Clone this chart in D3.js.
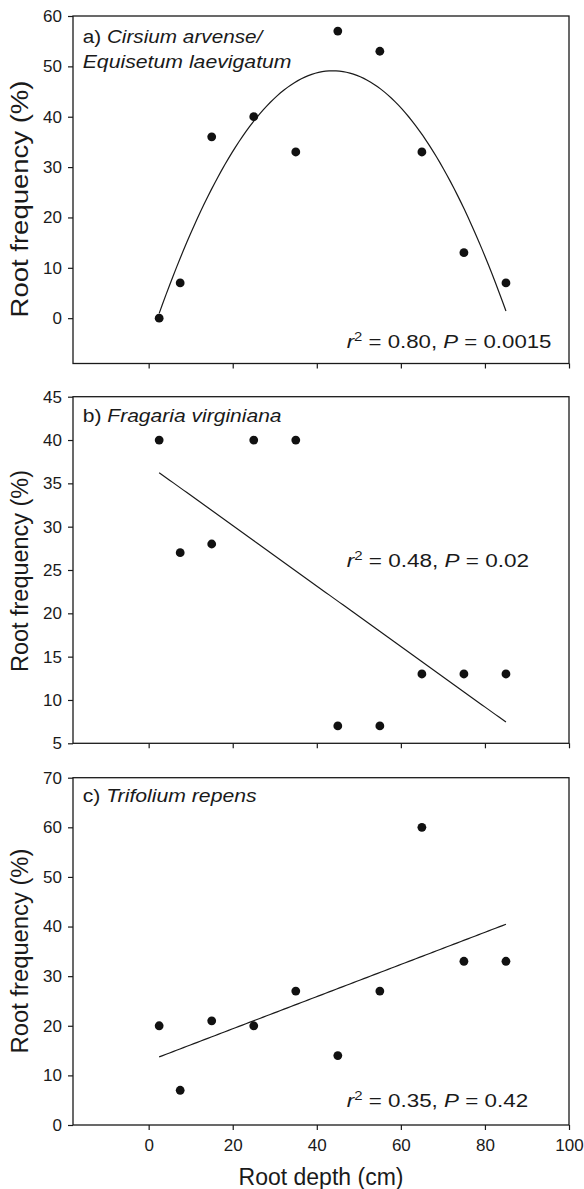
<!DOCTYPE html>
<html><head><meta charset="utf-8">
<script src="https://cdn.jsdelivr.net/npm/d3@7"></script>
<style>
body{margin:0;background:#fff}
svg{display:block}
text{font-family:"Liberation Sans",Arial,Helvetica,sans-serif;fill:#1a1a1a}
</style>
</head><body>
<svg id="chart" width="584" height="1189"></svg>
<script>
// ---- data ----
const depth = [2.5, 7.5, 15, 25, 35, 45, 55, 65, 75, 85];
const freqA = [0, 7, 36, 40, 33, 57, 53, 33, 13, 7];
const freqB = [40, 27, 28, 40, 40, 7, 7, 13, 13, 13];
const freqC = [20, 7, 21, 20, 27, 14, 27, 60, 33, 33];
const xTicks = [0, 20, 40, 60, 80, 100];
const yTicksA = [0, 10, 20, 30, 40, 50, 60];
const yTicksB = [5, 10, 15, 20, 25, 30, 35, 40, 45];
const yTicksC = [0, 10, 20, 30, 40, 50, 60, 70];
const labelA = [["a) ", "Cirsium arvense/"], ["", "Equisetum laevigatum"]];
const labelB = [["b) ", "Fragaria virginiana"]];
const labelC = [["c) ", "Trifolium repens"]];
const statA = ["0.80", "0.0015"];
const statB = ["0.48", "0.02"];
const statC = ["0.35", "0.42"];
const xTitle = "Root depth (cm)";
const yTitle = "Root frequency (%)";

// ---- layout ----
const svg = d3.select("#chart");
const left = 73, right = 569;
const x = d3.scaleLinear().domain([-18, 100]).range([left, right]);
const ink = "#1a1a1a";

const panels = [
  {vals: freqA, deg: 2, top: 16, bottom: 363.5, dom: [-9, 60], ticks: yTicksA, label: labelA,
   labelW: [182, 209], labelY: [43.3, 68.3], stat: statA, statY: 348.3, statW: 205,
   yTitleC: 199, yTitleW: 237, xLabels: false},
  {vals: freqB, deg: 1, top: 396.7, bottom: 743.3, dom: [5, 45], ticks: yTicksB, label: labelB,
   labelW: [199], labelY: [421.7], stat: statB, statY: 566.7, statW: 182.6,
   yTitleC: 571, yTitleW: 202, xLabels: false},
  {vals: freqC, deg: 1, top: 777.7, bottom: 1125, dom: [0, 70], ticks: yTicksC, label: labelC,
   labelW: [174], labelY: [802.3], stat: statC, statY: 1106.7, statW: 181.6,
   yTitleC: 951, yTitleW: 205, xLabels: true}
];

// least squares polynomial fit computed from the data
function polyfit(xs, ys, deg) {
  const n = deg + 1;
  const A = Array.from({length: n}, () => new Array(n + 1).fill(0));
  for (let i = 0; i < xs.length; i++) {
    for (let r = 0; r < n; r++) {
      for (let c = 0; c < n; c++) A[r][c] += Math.pow(xs[i], r + c);
      A[r][n] += ys[i] * Math.pow(xs[i], r);
    }
  }
  for (let p = 0; p < n; p++) {
    let m = p;
    for (let r = p + 1; r < n; r++) if (Math.abs(A[r][p]) > Math.abs(A[m][p])) m = r;
    [A[p], A[m]] = [A[m], A[p]];
    for (let r = 0; r < n; r++) {
      if (r === p) continue;
      const f = A[r][p] / A[p][p];
      for (let c = p; c <= n; c++) A[r][c] -= f * A[p][c];
    }
  }
  return A.map((row, i) => row[n] / A[i][i]);
}

function fitWidth(sel, tx, ty, w) {
  const bw = sel.node().getBBox().width;
  sel.attr("transform", `translate(${tx},${ty}) scale(${w / bw},1)`);
}

panels.forEach(p => {
  const y = d3.scaleLinear().domain(p.dom).range([p.bottom, p.top]);
  const g = svg.append("g");

  // y axis
  const ya = g.append("g").attr("transform", `translate(${left},0)`)
    .call(d3.axisLeft(y).tickValues(p.ticks).tickSize(5).tickPadding(6).tickSizeOuter(0));
  ya.select(".domain").remove();
  ya.selectAll("line").attr("stroke", ink).attr("stroke-width", 1.2);
  ya.selectAll("text").attr("font-size", 17).attr("font-family", null).attr("fill", ink);

  // x axis
  const xa = g.append("g").attr("transform", `translate(0,${p.bottom})`)
    .call(d3.axisBottom(x).tickValues(xTicks).tickSize(5).tickSizeOuter(0)
      .tickFormat(p.xLabels ? d3.format("d") : () => ""));
  xa.select(".domain").remove();
  xa.selectAll("line").attr("stroke", ink).attr("stroke-width", 1.2);
  xa.selectAll("text").attr("font-size", 17).attr("font-family", null).attr("fill", ink)
    .attr("dy", null).attr("y", 26);

  // frame
  g.append("rect").attr("x", left).attr("y", p.top)
    .attr("width", right - left).attr("height", p.bottom - p.top)
    .attr("fill", "none").attr("stroke", ink).attr("stroke-width", 1.3);

  // fit line
  const coef = polyfit(depth, p.vals, p.deg);
  const x0 = d3.min(depth), x1 = d3.max(depth);
  const pts = d3.range(0, 101).map(i => {
    const xv = x0 + (x1 - x0) * i / 100;
    return [xv, coef.reduce((s, c, k) => s + c * Math.pow(xv, k), 0)];
  });
  g.append("path").datum(pts)
    .attr("d", d3.line().x(d => x(d[0])).y(d => y(d[1])))
    .attr("fill", "none").attr("stroke", ink).attr("stroke-width", 1.2);

  // points
  g.selectAll("circle").data(depth).join("circle")
    .attr("cx", d => x(d)).attr("cy", (d, i) => y(p.vals[i]))
    .attr("r", 4.4).attr("fill", "#111");

  // panel label
  p.label.forEach((ln, i) => {
    const t = g.append("text").attr("font-size", 18);
    if (ln[0]) t.append("tspan").text(ln[0]);
    t.append("tspan").attr("font-style", "italic").text(ln[1]);
    fitWidth(t, 82.7, p.labelY[i], p.labelW[i]);
  });

  // statistics
  const s = g.append("text").attr("font-size", 18);
  s.append("tspan").attr("font-style", "italic").text("r");
  s.append("tspan").attr("font-size", 12).attr("dy", -7).text("2");
  s.append("tspan").attr("dy", 7).text(" = " + p.stat[0] + ", ");
  s.append("tspan").attr("font-style", "italic").text("P");
  s.append("tspan").text(" = " + p.stat[1]);
  fitWidth(s, 346.7, p.statY, p.statW);

  // y title
  const yt = g.append("text").attr("font-size", 24).attr("text-anchor", "middle").text(yTitle);
  const bw = yt.node().getBBox().width;
  yt.attr("transform", `translate(27.5,${p.yTitleC}) rotate(-90) scale(${p.yTitleW / bw},1)`);
});

// x title
svg.append("text").attr("x", (left + right) / 2).attr("y", 1185)
  .attr("text-anchor", "middle").attr("font-size", 23).text(xTitle);
</script>
</body></html>
